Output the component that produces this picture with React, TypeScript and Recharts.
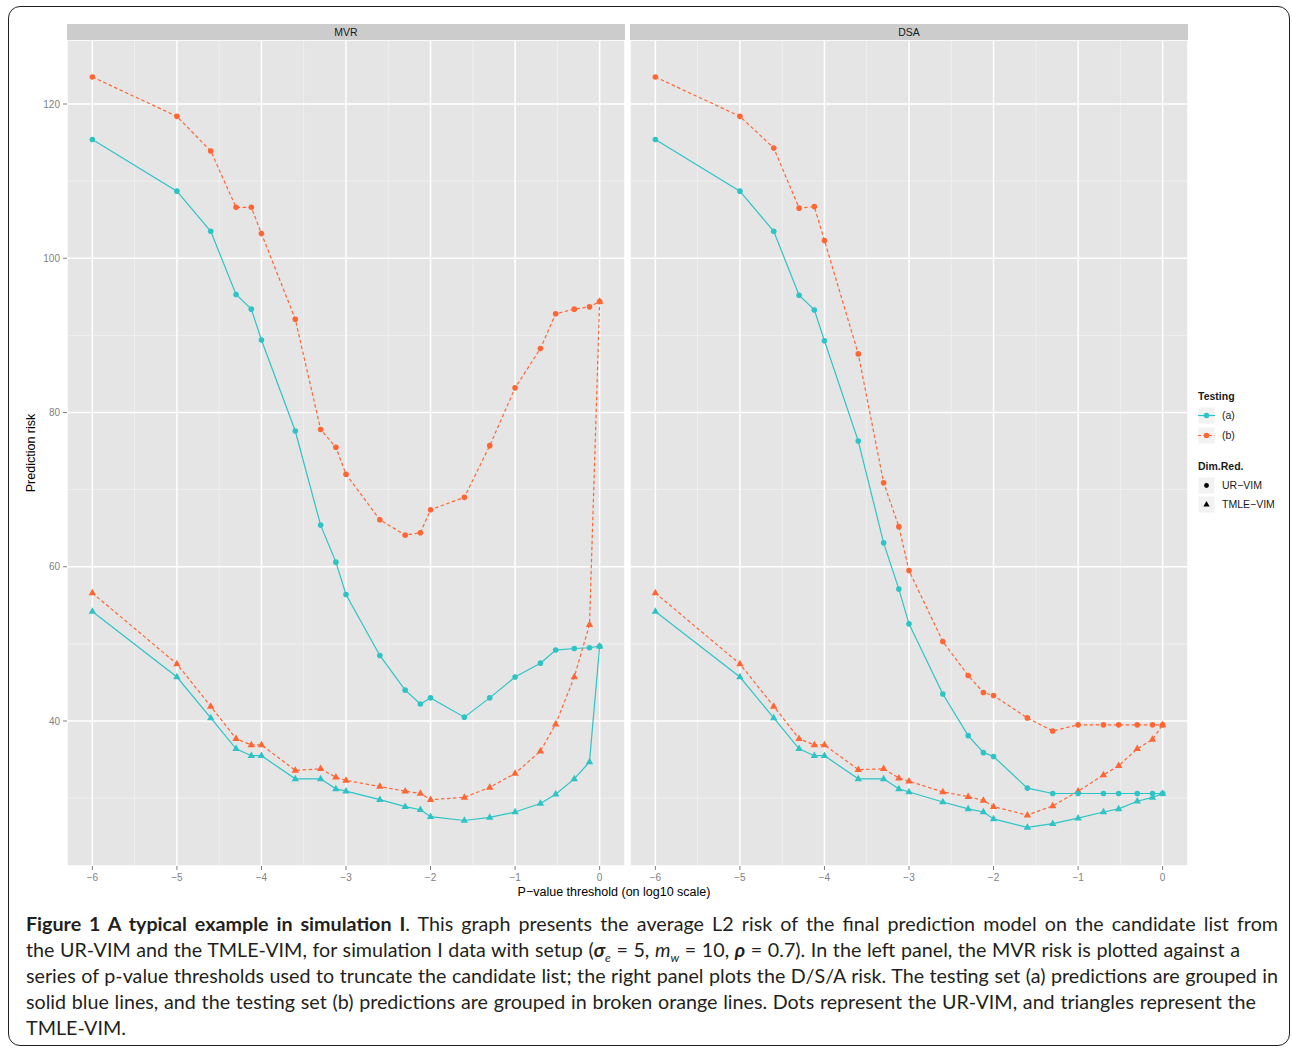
import { LineChart, Line, XAxis, YAxis, CartesianGrid } from 'recharts'

// log10 of the p-value thresholds
const THRESHOLDS = [-6, -5, -4.6, -4.3, -4.12, -4, -3.6, -3.3, -3.12, -3, -2.6, -2.3, -2.12, -2, -1.6, -1.3, -1, -0.7, -0.52, -0.3, -0.12, 0]

// MVR panel
const MVR_A_UR = [115.4, 108.7, 103.5, 95.3, 93.4, 89.4, 77.6, 65.4, 60.6, 56.4, 48.5, 44.0, 42.2, 43.0, 40.5, 43.0, 45.7, 47.5, 49.2, 49.4, 49.5, 49.7]
const MVR_B_UR = [123.5, 118.4, 113.9, 106.6, 106.6, 103.2, 92.1, 77.8, 75.5, 72.0, 66.1, 64.1, 64.4, 67.4, 69.0, 75.7, 83.2, 88.3, 92.8, 93.4, 93.7, 94.4]
const MVR_A_TM = [54.2, 45.7, 40.4, 36.4, 35.5, 35.5, 32.5, 32.5, 31.2, 30.9, 29.8, 28.9, 28.5, 27.6, 27.1, 27.5, 28.2, 29.3, 30.5, 32.5, 34.7, 49.7]
const MVR_B_TM = [56.6, 47.4, 41.9, 37.7, 36.9, 36.9, 33.6, 33.8, 32.7, 32.3, 31.5, 30.9, 30.6, 29.8, 30.1, 31.4, 33.2, 36.1, 39.6, 45.7, 52.5, 94.4]

// DSA panel
const DSA_A_UR = [115.4, 108.7, 103.5, 95.2, 93.3, 89.3, 76.3, 63.1, 57.1, 52.6, 43.5, 38.1, 35.9, 35.4, 31.3, 30.6, 30.6, 30.6, 30.6, 30.6, 30.6, 30.6]
const DSA_B_UR = [123.5, 118.4, 114.3, 106.5, 106.7, 102.3, 87.6, 70.9, 65.2, 59.5, 50.3, 45.9, 43.7, 43.3, 40.4, 38.7, 39.5, 39.5, 39.5, 39.5, 39.5, 39.5]
const DSA_A_TM = [54.2, 45.7, 40.4, 36.4, 35.5, 35.5, 32.5, 32.5, 31.2, 30.8, 29.5, 28.6, 28.2, 27.3, 26.2, 26.7, 27.4, 28.2, 28.6, 29.6, 30.1, 30.6]
const DSA_B_TM = [56.6, 47.4, 41.9, 37.7, 36.9, 36.9, 33.7, 33.8, 32.6, 32.2, 30.8, 30.2, 29.7, 28.9, 27.8, 29.0, 30.9, 33.0, 34.2, 36.4, 37.6, 39.5]

const X_TICKS = [-6, -5, -4, -3, -2, -1, 0]
const X_MINOR = [-5.5, -4.5, -3.5, -2.5, -1.5, -0.5]
const Y_TICKS = [40, 60, 80, 100, 120]
const Y_MINOR = [30, 50, 70, 90, 110]

const TEAL = '#2EC4C6'
const ORANGE = '#FF6633'
const SANS = '"Liberation Sans", Arial, Helvetica, sans-serif'
const GREY = '#7F7F7F'

const buildRows = (aUR: number[], bUR: number[], aTM: number[], bTM: number[]) =>
  THRESHOLDS.map((x, i) => ({ x, aUR: aUR[i], bUR: bUR[i], aTM: aTM[i], bTM: bTM[i] }))

const mvrRows = buildRows(MVR_A_UR, MVR_B_UR, MVR_A_TM, MVR_B_TM)
const dsaRows = buildRows(DSA_A_UR, DSA_B_UR, DSA_A_TM, DSA_B_TM)

const minus = (v: number) => String(v).replace('-', '\u2212')

function circleDot(color: string) {
  return (props: any) => {
    const { cx, cy, index } = props
    if (cx == null || cy == null) return <g key={`c-${index}`} />
    return <circle key={`c-${index}`} cx={cx} cy={cy} r={2.8} fill={color} />
  }
}

function triangleDot(color: string) {
  return (props: any) => {
    const { cx, cy, index } = props
    if (cx == null || cy == null) return <g key={`t-${index}`} />
    const d = `M${cx},${cy - 4.2} L${cx + 3.7},${cy + 2.3} L${cx - 3.7},${cy + 2.3} Z`
    return <path key={`t-${index}`} d={d} fill={color} />
  }
}

function Panel({ rows, left, width, showY }: { rows: any[]; left: number; width: number; showY: boolean }) {
  return (
    <div style={{ position: 'absolute', left, top: 40 }}>
      <LineChart width={width} height={856} data={rows} margin={{ top: 0, right: 0, bottom: 0, left: 0 }}>
        <CartesianGrid
          fill="#E5E5E5"
          stroke="#F2F2F2"
          strokeWidth={0.8}
          horizontalValues={Y_MINOR}
          verticalValues={X_MINOR}
        />
        <CartesianGrid stroke="#FFFFFF" strokeWidth={1.5} />
        <XAxis
          type="number"
          dataKey="x"
          domain={[-6.3, 0.3]}
          ticks={X_TICKS}
          allowDataOverflow
          axisLine={false}
          tickLine={{ stroke: GREY }}
          tickSize={4}
          tickMargin={4}
          height={30}
          tick={{ fill: GREY, fontSize: 10, fontFamily: SANS }}
          tickFormatter={minus}
        />
        <YAxis
          type="number"
          domain={[21.2, 128.3]}
          ticks={Y_TICKS}
          allowDataOverflow
          hide={!showY}
          width={50}
          axisLine={false}
          tickLine={{ stroke: GREY }}
          tickSize={4}
          tickMargin={3}
          tick={{ fill: GREY, fontSize: 10, fontFamily: SANS }}
        />
        <Line dataKey="bUR" stroke={ORANGE} strokeWidth={1.2} strokeDasharray="3.5 2.5" dot={circleDot(ORANGE)} isAnimationActive={false} />
        <Line dataKey="bTM" stroke={ORANGE} strokeWidth={1.2} strokeDasharray="3.5 2.5" dot={triangleDot(ORANGE)} isAnimationActive={false} />
        <Line dataKey="aUR" stroke={TEAL} strokeWidth={1.2} dot={circleDot(TEAL)} isAnimationActive={false} />
        <Line dataKey="aTM" stroke={TEAL} strokeWidth={1.2} dot={triangleDot(TEAL)} isAnimationActive={false} />
      </LineChart>
    </div>
  )
}

const stripStyle = (left: number, width: number): React.CSSProperties => ({
  position: 'absolute',
  left,
  top: 24,
  width,
  height: 16,
  background: '#CCCCCC',
  color: '#1A1A1A',
  fontFamily: SANS,
  fontSize: 10.5,
  lineHeight: '16px',
  textAlign: 'center',
})

const legendText: React.CSSProperties = {
  position: 'absolute',
  left: 1222,
  fontFamily: SANS,
  fontSize: 10.5,
  color: '#1A1A1A',
  lineHeight: '12px',
}

function LegendKey({ top, children }: { top: number; children: React.ReactNode }) {
  return (
    <svg style={{ position: 'absolute', left: 1198, top }} width={17} height={17}>
      <rect x={0} y={0} width={17} height={17} fill="#F2F2F2" stroke="#FFFFFF" />
      {children}
    </svg>
  )
}

const capLine = (top: number, width: number, justify: boolean): React.CSSProperties => ({
  position: 'absolute',
  left: 26,
  top,
  width,
  whiteSpace: 'nowrap',
  textAlign: justify ? 'justify' : 'left',
  textAlignLast: justify ? 'justify' : 'left',
  fontFamily: 'Lato, "Open Sans", sans-serif',
  fontSize: 19.7,
  lineHeight: '26px',
  color: '#231F20',
})

export default function App() {
  return (
    <div style={{ position: 'fixed', left: 0, top: 0, width: 1292, height: 1049, background: '#fff', overflow: 'hidden' }}>
      <div
        style={{
          position: 'absolute',
          left: 8,
          top: 6,
          width: 1282,
          height: 1040,
          border: '1.5px solid #231F20',
          borderRadius: 12,
          boxSizing: 'border-box',
        }}
      />
      <div style={stripStyle(67, 558)}>MVR</div>
      <div style={stripStyle(630, 558)}>DSA</div>
      <Panel rows={mvrRows} left={17} width={608} showY />
      <Panel rows={dsaRows} left={630} width={558} showY={false} />

      <div
        style={{
          position: 'absolute',
          left: 31,
          top: 453,
          transform: 'translate(-50%, -50%) rotate(-90deg)',
          transformOrigin: 'center',
          whiteSpace: 'nowrap',
          fontFamily: SANS,
          fontSize: 12.5,
          color: '#000',
        }}
      >
        Prediction risk
      </div>
      <div
        style={{
          position: 'absolute',
          left: 614,
          top: 885,
          transform: 'translateX(-50%)',
          whiteSpace: 'nowrap',
          fontFamily: SANS,
          fontSize: 12.5,
          color: '#000',
        }}
      >
        P−value threshold (on log10 scale)
      </div>

      {/* legend */}
      <div style={{ ...legendText, left: 1198, top: 390, fontWeight: 'bold' }}>Testing</div>
      <LegendKey top={407}>
        <line x1={0} y1={8.5} x2={17} y2={8.5} stroke={TEAL} strokeWidth={1.2} />
        <circle cx={8.5} cy={8.5} r={2.8} fill={TEAL} />
      </LegendKey>
      <div style={{ ...legendText, top: 409 }}>(a)</div>
      <LegendKey top={427}>
        <line x1={0} y1={8.5} x2={17} y2={8.5} stroke={ORANGE} strokeWidth={1.2} strokeDasharray="3 2.5" />
        <circle cx={8.5} cy={8.5} r={2.8} fill={ORANGE} />
      </LegendKey>
      <div style={{ ...legendText, top: 429 }}>(b)</div>
      <div style={{ ...legendText, left: 1198, top: 460, fontWeight: 'bold' }}>Dim.Red.</div>
      <LegendKey top={477}>
        <circle cx={8.5} cy={8.5} r={2.4} fill="#000" />
      </LegendKey>
      <div style={{ ...legendText, top: 479 }}>UR−VIM</div>
      <LegendKey top={496}>
        <path d="M8.5,5 L11.6,10.6 L5.4,10.6 Z" fill="#000" />
      </LegendKey>
      <div style={{ ...legendText, top: 498 }}>TMLE−VIM</div>

      {/* caption */}
      <div style={capLine(911, 1252, true)}>
        <b>Figure 1 A typical example in simulation I</b>. This graph presents the average L2 risk of the final prediction model on the candidate list from
      </div>
      <div style={capLine(937, 1214, true)}>
        the UR-VIM and the TMLE-VIM, for simulation I data with setup (
        <b><i>σ</i></b>
        <sub style={{ fontSize: 12, lineHeight: 0 }}><i>e</i></sub> = 5, <i>m</i>
        <sub style={{ fontSize: 12, lineHeight: 0 }}><i>w</i></sub> = 10, <b><i>ρ</i></b> = 0.7). In the left panel, the MVR risk is plotted against a
      </div>
      <div style={capLine(963, 1252, true)}>
        series of p-value thresholds used to truncate the candidate list; the right panel plots the D/S/A risk. The testing set (a) predictions are grouped in
      </div>
      <div style={capLine(989, 1230, true)}>
        solid blue lines, and the testing set (b) predictions are grouped in broken orange lines. Dots represent the UR-VIM, and triangles represent the
      </div>
      <div style={capLine(1015, 600, false)}>TMLE-VIM.</div>
    </div>
  )
}
